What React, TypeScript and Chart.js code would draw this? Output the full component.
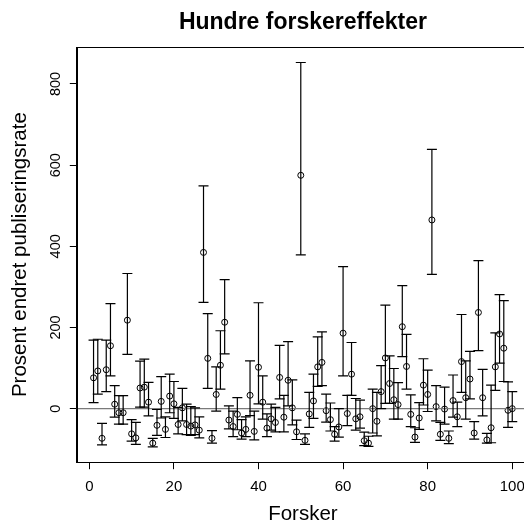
import React, { useEffect, useRef } from "react";
import { Chart, registerables } from "chart.js";

Chart.register(...registerables);

// Researcher index (1..100)
const researchers: number[] = Array.from({ length: 100 }, (_, i) => i + 1);

// Estimated effect (percent change in publication rate)
const effect: number[] = [
  76, 93, -73, 96, 155, 11, -10, -10, 218, -62,
  -72, 51, 53, 16, -85, -41, 18, -51, 31, 12,
  -39, 2, -39, -43, -40, -53, 385, 124, -73, 35,
  107, 213, -28, -44, -14, -60, -51, 33, -56, 102,
  16, -48, -25, -34, 77, -21, 70, 2, -57, 575,
  -78, -13, 19, 103, 114, -5, -27, -63, -45, 186,
  -12, 85, -25, -20, -79, -85, 0, -31, 42, 125,
  62, 22, 10, 202, 104, -14, -70, -23, 58, 35,
  465, 5, -63, -1, -73, 20, -20, 116, 27, 73,
  -60, 237, 27, -77, -47, 103, 184, 149, -4, 0,
];

// Upper confidence limits
const upper: number[] = [
  169, 171, -36, 169, 259, 57, 32, 32, 333, -27,
  -34, 117, 122, 65, -73, -2, 79, -20, 85, 67,
  3, 50, 11, 5, 2, -20, 549, 234, -54, 103,
  192, 318, 7, -6, 27, -27, -20, 118, -6, 261,
  81, -13, 11, 3, 156, 33, 165, 71, -28, 853,
  -62, 40, 85, 177, 189, 36, 14, -44, 0, 350,
  33, 163, 25, 21, -58, -68, 48, 40, 106, 255,
  130, 99, 64, 303, 183, 34, -47, 15, 123, 95,
  639, 57, -34, 53, -55, 83, 16, 232, 118, 141,
  -32, 365, 97, -61, 58, 187, 281, 266, 66, 42,
];

// Lower confidence limits
const lower: number[] = [
  15, 36, -89, 42, 81, -21, -38, -38, 134, -80,
  -88, 4, 4, -18, -94, -66, -23, -71, -10, -24,
  -62, -30, -64, -66, -64, -72, 262, 50, -85, -6,
  48, 135, -50, -69, -52, -75, -69, -17, -77, 12,
  -26, -69, -53, -57, 24, -57, 7, -40, -76, 379,
  -88, -46, -24, 55, 57, -33, -55, -80, -70, 81,
  -42, 33, -53, -48, -91, -93, -60, -67, 0, 13,
  13, -26, -26, 128, 48, -44, -83, -51, 9, -7,
  331, -30, -78, -38, -86, -21, -44, 40, -26, 24,
  -75, 143, -18, -85, -84, 45, 112, 67, -46, -32,
];

const xTicks: number[] = [0, 20, 40, 60, 80, 100];
const yTicks: number[] = [0, 200, 400, 600, 800];

const TITLE = "Hundre forskereffekter";
const X_TITLE = "Forsker";
const Y_TITLE = "Prosent endret publiseringsrate";
const FONT = '"Liberation Sans", Arial, Helvetica, sans-serif';

export default function App() {
  const canvasRef = useRef<HTMLCanvasElement | null>(null);

  useEffect(() => {
    const canvas = canvasRef.current;
    if (!canvas) return;

    const decor = {
      id: "rdecor",
      afterDatasetsDraw(chart: any) {
        const ctx = chart.ctx;
        const ca = chart.chartArea;
        const xs = chart.scales.x;
        const ys = chart.scales.y;
        ctx.save();
        // zero reference line
        const y0 = ys.getPixelForValue(0);
        ctx.strokeStyle = "#7a7a7a";
        ctx.lineWidth = 1.4;
        ctx.beginPath();
        ctx.moveTo(ca.left, y0);
        ctx.lineTo(ca.right, y0);
        ctx.stroke();
        // error bars
        ctx.strokeStyle = "#000";
        ctx.lineWidth = 1.2;
        const cap = 5;
        for (let i = 0; i < researchers.length; i++) {
          const x = xs.getPixelForValue(researchers[i]);
          const yh = ys.getPixelForValue(upper[i]);
          const yl = ys.getPixelForValue(lower[i]);
          ctx.beginPath();
          ctx.moveTo(x, yh);
          ctx.lineTo(x, yl);
          ctx.moveTo(x - cap, yh);
          ctx.lineTo(x + cap, yh);
          ctx.moveTo(x - cap, yl);
          ctx.lineTo(x + cap, yl);
          ctx.stroke();
        }
        ctx.restore();
      },
      afterDraw(chart: any) {
        const ctx = chart.ctx;
        const ca = chart.chartArea;
        const xs = chart.scales.x;
        const ys = chart.scales.y;
        ctx.save();
        // box
        ctx.strokeStyle = "#000";
        ctx.lineWidth = 1;
        ctx.strokeRect(
          Math.round(ca.left) + 0.5,
          Math.round(ca.top) + 0.5,
          Math.round(ca.right) - Math.round(ca.left),
          Math.round(ca.bottom) - Math.round(ca.top)
        );
        ctx.fillStyle = "#000";
        // title
        ctx.font = `bold 23px ${FONT}`;
        ctx.textAlign = "center";
        ctx.textBaseline = "alphabetic";
        const cx = (ca.left + ca.right) / 2;
        ctx.fillText(TITLE, cx, 29.3);
        // x tick labels
        ctx.font = `15px ${FONT}`;
        for (const t of xs.ticks) {
          ctx.fillText(String(t.value), xs.getPixelForValue(t.value), 490.8);
        }
        // y tick labels (rotated)
        ctx.font = `14.5px ${FONT}`;
        for (const t of ys.ticks) {
          ctx.save();
          ctx.translate(59.5, ys.getPixelForValue(t.value));
          ctx.rotate(-Math.PI / 2);
          ctx.fillText(String(t.value), 0, 0);
          ctx.restore();
        }
        // axis titles
        ctx.font = `20.5px ${FONT}`;
        ctx.fillText(X_TITLE, cx, 520);
        ctx.save();
        ctx.translate(26, (ca.top + ca.bottom) / 2);
        ctx.rotate(-Math.PI / 2);
        ctx.fillText(Y_TITLE, 0, 0);
        ctx.restore();
        ctx.restore();
      },
    };

    const chart = new Chart(canvas, {
      type: "scatter",
      data: {
        datasets: [
          {
            data: researchers.map((x, i) => ({ x, y: effect[i] })),
            pointStyle: "circle",
            pointRadius: 3,
            pointBorderWidth: 1,
            pointBorderColor: "#000",
            pointBackgroundColor: "rgba(0,0,0,0)",
            showLine: false,
          },
        ],
      },
      options: {
        responsive: false,
        animation: false,
        events: [],
        layout: { padding: { left: 0, top: 47.1, right: 31, bottom: 0 } },
        plugins: {
          legend: { display: false },
          tooltip: { enabled: false },
          title: { display: false },
        },
        scales: {
          x: {
            type: "linear",
            min: -2.96,
            max: 103.96,
            afterBuildTicks: (s: any) => {
              s.ticks = xTicks.map((v) => ({ value: v }));
            },
            afterFit: (s: any) => {
              s.height = 59.8;
            },
            grid: {
              drawOnChartArea: false,
              drawTicks: true,
              tickLength: 7,
              color: "#000",
              lineWidth: 1,
            },
            border: { display: true, color: "#000", width: 1 },
            ticks: { color: "rgba(0,0,0,0)", font: { size: 14 } },
          },
          y: {
            type: "linear",
            min: -131.9,
            max: 890.9,
            afterBuildTicks: (s: any) => {
              s.ticks = yTicks.map((v) => ({ value: v }));
            },
            afterFit: (s: any) => {
              s.width = 76.8;
            },
            grid: {
              drawOnChartArea: false,
              drawTicks: true,
              tickLength: 7,
              color: "#000",
              lineWidth: 1,
            },
            border: { display: true, color: "#000", width: 1 },
            ticks: { color: "rgba(0,0,0,0)", font: { size: 14 } },
          },
        },
      },
      plugins: [decor],
    });

    return () => {
      chart.destroy();
    };
  }, []);

  return (
    <div
      style={{
        position: "fixed",
        left: 0,
        top: 0,
        width: 524,
        height: 522,
        overflow: "hidden",
        background: "#fff",
      }}
    >
      <canvas ref={canvasRef} width={560} height={522} style={{ display: "block" }} />
    </div>
  );
}
